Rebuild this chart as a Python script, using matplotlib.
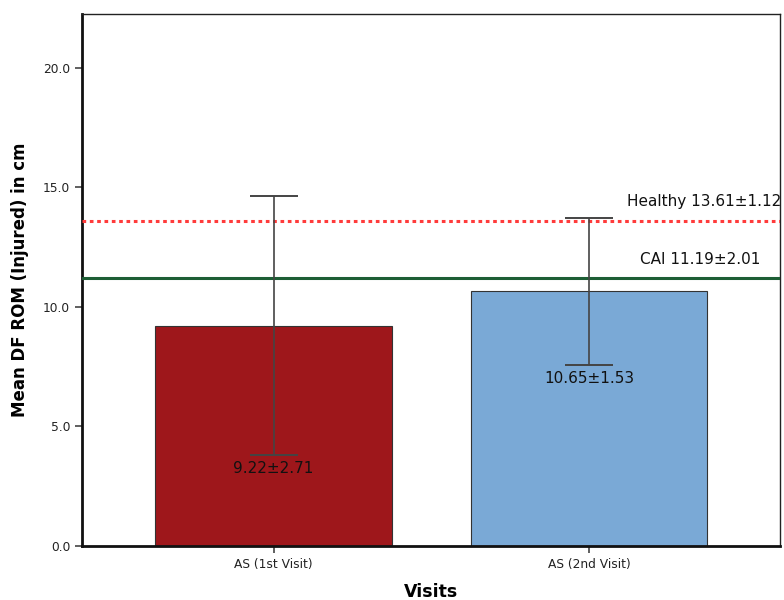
import matplotlib
matplotlib.use("Agg")
import matplotlib.pyplot as plt

categories = ["AS (1st Visit)", "AS (2nd Visit)"]
means = [9.22, 10.65]
sds = [2.71, 1.53]
bar_colors = ["#9e171b", "#7aa9d6"]

healthy_mean, healthy_sd = 13.61, 1.12
cai_mean, cai_sd = 11.19, 2.01

fig = plt.figure(figsize=(7.84, 6.0), dpi=100)
ax = fig.add_axes([0.1046, 0.09, 0.8904, 0.887])

x = list(range(len(categories)))
errs = [2 * s for s in sds]
ax.bar(x, means, width=0.75, color=bar_colors, edgecolor="#333333",
       linewidth=0.8, zorder=2)
ax.errorbar(x, means, yerr=errs, fmt="none", ecolor="#444444",
            elinewidth=1.2, capsize=17, capthick=1.4, zorder=4)

for xi, m, s, e in zip(x, means, sds, errs):
    ax.text(xi, m - e - 0.25, f"{m:.2f}\u00b1{s:.2f}", ha="center", va="top",
            fontsize=11, color="#111111", zorder=5)

ax.axhline(healthy_mean, color="#ff3b3b", linestyle=(0, (1.2, 1.2)),
           linewidth=2.2, zorder=3)
ax.axhline(cai_mean, color="#1d5e35", linestyle="-", linewidth=2.2, zorder=3)
ax.text(1.12, healthy_mean + 0.78, f"Healthy {healthy_mean:.2f}\u00b1{healthy_sd:.2f}",
        ha="left", va="center", fontsize=11, color="#111111", clip_on=False)
ax.text(1.161, cai_mean + 0.78, f"CAI {cai_mean:.2f}\u00b1{cai_sd:.2f}",
        ha="left", va="center", fontsize=11, color="#111111")

ax.set_xlim(-0.607, 1.605)
ax.set_ylim(0, 22.26)
ax.set_yticks([0, 5, 10, 15, 20])
ax.set_yticklabels([f"{v:.1f}" for v in [0, 5, 10, 15, 20]])
ax.set_xticks(x)
ax.set_xticklabels(categories)
ax.tick_params(axis="both", labelsize=8.8, length=5, width=1.2,
               color="#444444", labelcolor="#222222", direction="out")

for side in ("left", "bottom"):
    ax.spines[side].set_linewidth(2.0)
    ax.spines[side].set_color("#111111")
for side in ("top", "right"):
    ax.spines[side].set_linewidth(1.0)
    ax.spines[side].set_color("#222222")

ax.set_ylabel("Mean DF ROM (Injured) in cm", fontsize=12, fontweight="bold",
              labelpad=10)
ax.set_xlabel("Visits", fontsize=12.5, fontweight="bold", labelpad=9)

fig.savefig("out.png", dpi=100)
